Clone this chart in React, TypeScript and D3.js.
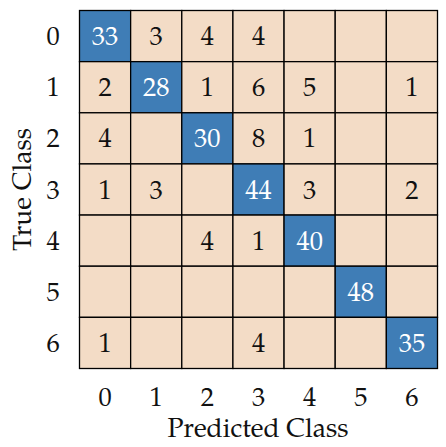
import React from "react";
import * as d3 from "d3";

const classes = ["0", "1", "2", "3", "4", "5", "6"];
const matrix: number[][] = [
  [33, 3, 4, 4, 0, 0, 0],
  [2, 28, 1, 6, 5, 0, 1],
  [4, 0, 30, 8, 1, 0, 0],
  [1, 3, 0, 44, 3, 0, 2],
  [0, 0, 4, 1, 40, 0, 0],
  [0, 0, 0, 0, 0, 48, 0],
  [1, 0, 0, 4, 0, 0, 35],
];
const xTitle = "Predicted Class";
const yTitle = "True Class";

const W = 446, H = 447;
const left = 79.5, top = 10.5, size = 358;
const font = "'Palatino Linotype', Palatino, 'TeX Gyre Pagella', 'DejaVu Serif', serif";
const fs = 26.5;

export default function App() {
  const x = d3.scaleBand<string>().domain(classes).range([left, left + size]);
  const y = d3.scaleBand<string>().domain(classes).range([top, top + size]);
  const fill = d3.scaleThreshold<number, string>().domain([20]).range(["#f3dcc6", "#3f7db6"]);
  const textFill = d3.scaleThreshold<number, string>().domain([20]).range(["#111", "#fff"]);
  const cells = matrix.flatMap((row, i) => row.map((v, j) => ({ i, j, v })));
  return (
    <svg width={W} height={H} style={{ position: "absolute", left: 0, top: 0, background: "#fff" }}>
      {cells.map((c) => (
        <rect key={`r${c.i}-${c.j}`} x={x(classes[c.j])} y={y(classes[c.i])}
          width={x.bandwidth()} height={y.bandwidth()} fill={fill(c.v)}
          stroke="#000" strokeWidth={1.3} />
      ))}
      {cells.filter((c) => c.v > 0).map((c) => (
        <text key={`t${c.i}-${c.j}`} x={x(classes[c.j])! + x.bandwidth() / 2}
          y={y(classes[c.i])! + y.bandwidth() / 2} dy="0.34em" textAnchor="middle"
          fontFamily={font} fontSize={fs} fill={textFill(c.v)}>{c.v}</text>
      ))}
      {classes.map((k) => (
        <text key={`xt${k}`} x={x(k)! + x.bandwidth() / 2} y={397} dy="0.34em"
          textAnchor="middle" fontFamily={font} fontSize={fs} fill="#111">{k}</text>
      ))}
      {classes.map((k) => (
        <text key={`yt${k}`} x={53} y={y(k)! + y.bandwidth() / 2} dy="0.34em"
          textAnchor="middle" fontFamily={font} fontSize={fs} fill="#111">{k}</text>
      ))}
      <text x={258} y={428} dy="0.34em" textAnchor="middle"
        fontFamily={font} fontSize={fs} fill="#111">{xTitle}</text>
      <text transform={`translate(22,${top + size / 2}) rotate(-90)`} dy="0.34em"
        textAnchor="middle" fontFamily={font} fontSize={fs} fill="#111">{yTitle}</text>
    </svg>
  );
}
